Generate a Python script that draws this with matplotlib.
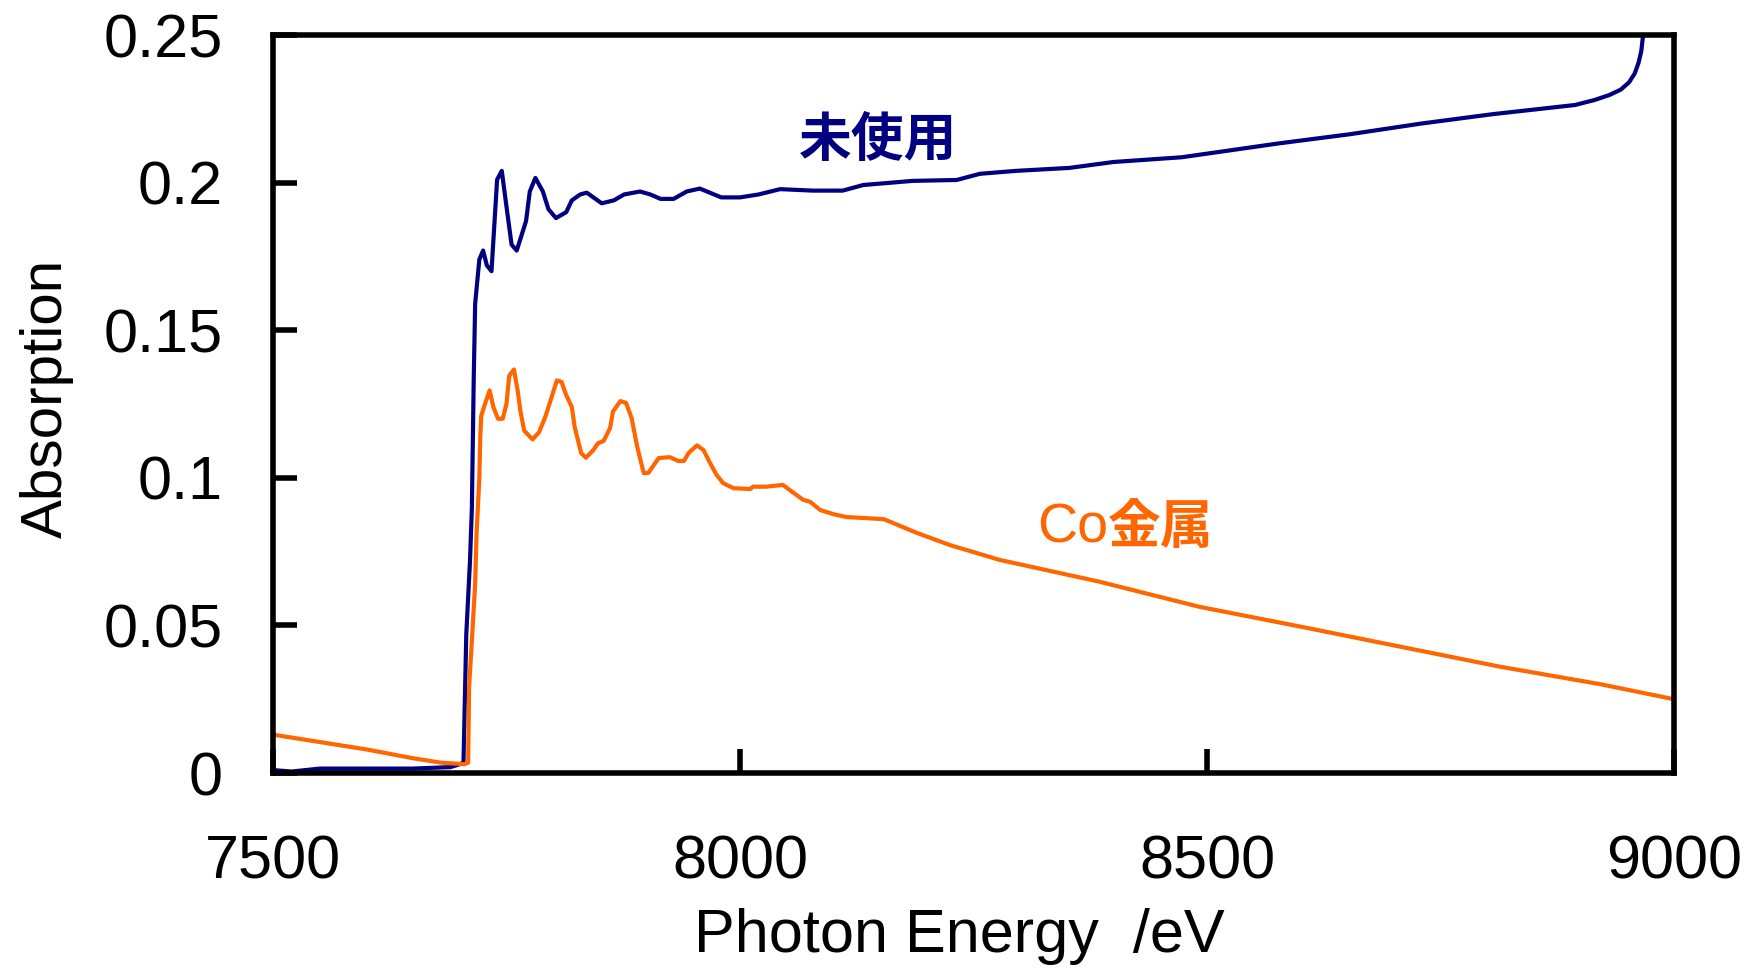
import matplotlib
matplotlib.use('Agg')
import matplotlib.pyplot as plt

# Co K-edge XANES spectra: unused sample vs. Co metal reference
energy_unused = [7500, 7520, 7550, 7600, 7650, 7690, 7700, 7704, 7707, 7711,
                 7713, 7715, 7716.5, 7721, 7725, 7729, 7734, 7740, 7745, 7750,
                 7755.5, 7761, 7766, 7771, 7775, 7781, 7789, 7795, 7803, 7814,
                 7820, 7829, 7836, 7852, 7865, 7876, 7893, 7904, 7915, 7929,
                 7943, 7957, 7980, 8000, 8020, 8043, 8078, 8110, 8132, 8185,
                 8232, 8257, 8296, 8353, 8400, 8473, 8577, 8653, 8729, 8806,
                 8894, 8915, 8931, 8943, 8952, 8958, 8962, 8965, 8967]
abs_unused = [0.001, 0.0005, 0.0015, 0.0015, 0.0015, 0.002, 0.003, 0.0035, 0.047, 0.072,
              0.09, 0.134, 0.159, 0.174, 0.177, 0.172, 0.170, 0.201, 0.204, 0.192,
              0.179, 0.177, 0.182, 0.187, 0.197, 0.2016, 0.197, 0.191, 0.188, 0.190,
              0.194, 0.196, 0.1966, 0.193, 0.194, 0.196, 0.197, 0.196, 0.1945, 0.1945,
              0.197, 0.198, 0.195, 0.195, 0.196, 0.1978, 0.1973, 0.1973, 0.1992, 0.2006,
              0.2009, 0.203, 0.204, 0.205, 0.207, 0.2086, 0.2133, 0.2164, 0.22, 0.2232,
              0.2263, 0.228, 0.2297, 0.2315, 0.234, 0.237, 0.2405, 0.2445, 0.25]

energy_co = [7500, 7550, 7600, 7650, 7680, 7705, 7709, 7710, 7713, 7716.5,
             7718, 7721, 7722, 7723, 7727, 7732, 7736, 7741, 7746, 7750,
             7753, 7758, 7762, 7765, 7769, 7778, 7785, 7792, 7799, 7804,
             7809, 7814, 7820, 7823, 7830, 7835, 7843, 7848, 7854, 7861,
             7864, 7872, 7878, 7884, 7890, 7897, 7902, 7913, 7925, 7934,
             7940, 7945, 7954, 7961, 7968, 7975, 7982, 7993, 8011, 8014,
             8028, 8046, 8057, 8068, 8075, 8086, 8100, 8114, 8154, 8189,
             8225, 8278, 8385, 8492, 8600, 8707, 8814, 8921, 9000]
abs_co = [0.013, 0.0105, 0.008, 0.005, 0.0035, 0.003, 0.0035, 0.029, 0.045, 0.064,
          0.081, 0.1, 0.114, 0.121, 0.125, 0.1296, 0.124, 0.12, 0.12, 0.125,
          0.1346, 0.1367, 0.1296, 0.1225, 0.116, 0.113, 0.1155, 0.121, 0.128, 0.133,
          0.1325, 0.128, 0.124, 0.1173, 0.1084, 0.1068, 0.1094, 0.1117, 0.1125, 0.1169,
          0.1224, 0.126, 0.1254, 0.1203, 0.1105, 0.1016, 0.1017, 0.1067, 0.107, 0.1057,
          0.1057, 0.1084, 0.111, 0.1094, 0.105, 0.101, 0.0982, 0.0965, 0.0962, 0.097,
          0.097, 0.0976, 0.095, 0.0925, 0.0919, 0.0891, 0.0877, 0.0867, 0.086, 0.0814,
          0.0772, 0.0722, 0.0648, 0.0563, 0.0496, 0.0428, 0.036, 0.0301, 0.025]

x_ticks = [7500, 8000, 8500, 9000]
y_ticks = [0, 0.05, 0.1, 0.15, 0.2, 0.25]
y_tick_labels = ['0', '0.05', '0.1', '0.15', '0.2', '0.25']

NAVY = '#000080'
ORANGE = '#FF6600'

plt.rcParams['font.family'] = ['Liberation Sans', 'DejaVu Sans']
cjk = ['Noto Sans CJK JP', 'DejaVu Sans']

fig = plt.figure(figsize=(17.53, 9.71), dpi=100)
ax = fig.add_axes([0.1557, 0.2039, 0.7992, 0.760])

ax.plot(energy_unused, abs_unused, color=NAVY, lw=3, solid_joinstyle='round')
ax.plot(energy_co, abs_co, color=ORANGE, lw=3, solid_joinstyle='round')

ax.set_xlim(7500, 9000)
ax.set_ylim(0, 0.25)
ax.set_xticks(x_ticks)
ax.set_yticks(y_ticks)
ax.set_yticklabels(y_tick_labels)

for s in ax.spines.values():
    s.set_linewidth(4)
    s.set_color('black')

ax.tick_params(axis='both', direction='in', length=17, width=4,
               labelsize=44, top=False, right=False)
ax.tick_params(axis='x', pad=44)
ax.tick_params(axis='y', pad=36)

ax.set_xlabel('Photon Energy  /eV', fontsize=44, va='center')
ax.xaxis.set_label_coords(0.49, -0.222)
ax.set_ylabel('Absorption', fontsize=42, va='center')
ax.yaxis.set_label_coords(-0.161, 0.507)

# curve labels
ax.text(8148, 0.2144, '未使用', color=NAVY, fontsize=38, fontweight='bold',
        family=cjk, ha='center', va='center')
ax.text(8394, 0.078, 'Co', color=ORANGE, fontsize=40, ha='right', va='baseline')
ax.text(8394, 0.078, '金属', color=ORANGE, fontsize=38, fontweight='bold',
        family=cjk, ha='left', va='baseline')

fig.savefig('out.png', dpi=100)
